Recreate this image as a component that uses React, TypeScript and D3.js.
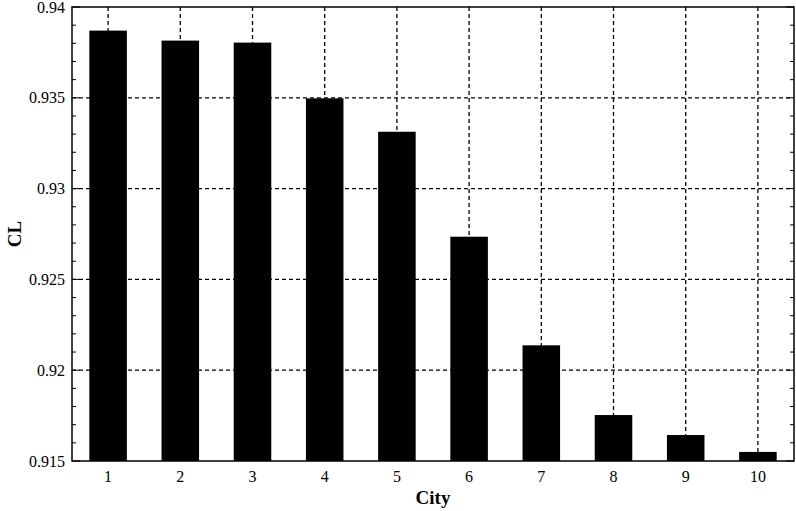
import React from "react";
import * as d3 from "d3";

const categories = ["1", "2", "3", "4", "5", "6", "7", "8", "9", "10"];
const values = [0.9387, 0.93815, 0.93804, 0.93497, 0.93313, 0.92735, 0.92137, 0.91753, 0.91643, 0.9155];
const yTicks = [0.915, 0.92, 0.925, 0.93, 0.935, 0.94];
const yTickLabels = ["0.915", "0.92", "0.925", "0.93", "0.935", "0.94"];

const W = 796, H = 511;
const L = 72, R = 794, T = 7, B = 461;
const FONT = "'Liberation Serif', 'Times New Roman', serif";

export default function App() {
  const x = d3.scaleBand<string>().domain(categories).range([L, R]).paddingInner(0.48).paddingOuter(0.24);
  const y = d3.scaleLinear().domain([0.915, 0.94]).range([B, T]);
  const minor = d3.range(0, 26).map((i) => 0.915 + i * 0.001);
  const dash = "4,3";
  return (
    <svg width={W} height={H} style={{ position: "absolute", left: 0, top: 0, background: "#fff" }}>
      {yTicks.slice(1, -1).map((t) => (
        <line key={"hg" + t} x1={L} x2={R} y1={y(t)} y2={y(t)} stroke="#000" strokeWidth={1.3} strokeDasharray={dash} />
      ))}
      {categories.map((c) => {
        const cx = (x(c) as number) + x.bandwidth() / 2;
        return <line key={"vg" + c} x1={cx} x2={cx} y1={T} y2={B} stroke="#000" strokeWidth={1.3} strokeDasharray={dash} />;
      })}
      {categories.map((c, i) => (
        <rect key={"b" + c} x={x(c)} y={y(values[i])} width={x.bandwidth()} height={B - y(values[i])} fill="#000" />
      ))}
      {minor.map((t, i) => {
        const major = i % 5 === 0;
        const len = major ? 8 : 4;
        return (
          <g key={"t" + i}>
            <line x1={L} x2={L + len} y1={y(t)} y2={y(t)} stroke="#000" strokeWidth={1} />
            <line x1={R} x2={R - len} y1={y(t)} y2={y(t)} stroke="#000" strokeWidth={1} />
          </g>
        );
      })}
      <rect x={L} y={T} width={R - L} height={B - T} fill="none" stroke="#000" strokeWidth={1.5} />
      {yTicks.map((t, i) => (
        <text key={"yl" + t} x={L - 7} y={y(t) + 5.5} textAnchor="end" fontFamily={FONT} fontSize={16} fill="#000">
          {yTickLabels[i]}
        </text>
      ))}
      {categories.map((c) => (
        <text key={"xl" + c} x={(x(c) as number) + x.bandwidth() / 2} y={482} textAnchor="middle" fontFamily={FONT} fontSize={16} fill="#000">
          {c}
        </text>
      ))}
      <text x={(L + R) / 2} y={504} textAnchor="middle" fontFamily={FONT} fontSize={19} fontWeight="bold" fill="#000">
        City
      </text>
      <text transform={`translate(21,${(T + B) / 2}) rotate(-90)`} textAnchor="middle" fontFamily={FONT} fontSize={19} fontWeight="bold" fill="#000">
        CL
      </text>
    </svg>
  );
}
